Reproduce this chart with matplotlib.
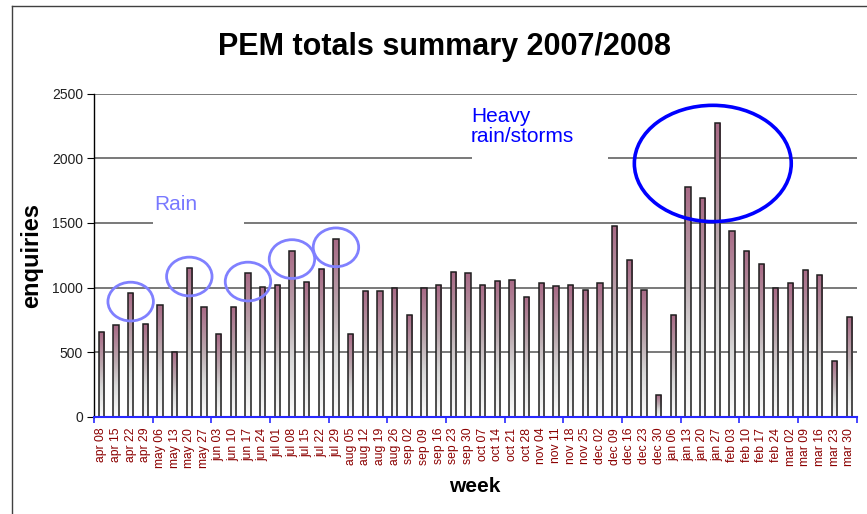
import numpy as np
import matplotlib
matplotlib.use('Agg')
import matplotlib.pyplot as plt
from matplotlib.patches import Ellipse, Rectangle
from matplotlib.colors import LinearSegmentedColormap
from matplotlib.lines import Line2D

plt.rcParams['font.family'] = ['Liberation Sans', 'DejaVu Sans']

# weekly PEM enquiries, apr 2007 - mar 2008
weeks = ['apr 08', 'apr 15', 'apr 22', 'apr 29', 'may 06', 'may 13', 'may 20', 'may 27',
         'jun 03', 'jun 10', 'jun 17', 'jun 24', 'jul 01', 'jul 08', 'jul 15', 'jul 22',
         'jul 29', 'aug 05', 'aug 12', 'aug 19', 'aug 26', 'sep 02', 'sep 09', 'sep 16',
         'sep 23', 'sep 30', 'oct 07', 'oct 14', 'oct 21', 'oct 28', 'nov 04', 'nov 11',
         'nov 18', 'nov 25', 'dec 02', 'dec 09', 'dec 16', 'dec 23', 'dec 30', 'jan 06',
         'jan 13', 'jan 20', 'jan 27', 'feb 03', 'feb 10', 'feb 17', 'feb 24', 'mar 02',
         'mar 09', 'mar 16', 'mar 23', 'mar 30']
enquiries = [653, 707, 956, 715, 863, 503, 1150, 847,
             637, 847, 1111, 1003, 1018, 1285, 1042, 1145,
             1376, 637, 972, 970, 997, 790, 997, 1016,
             1117, 1109, 1023, 1049, 1057, 930, 1031, 1010,
             1016, 977, 1031, 1474, 1215, 980, 165, 786,
             1775, 1689, 2275, 1440, 1285, 1184, 995, 1036,
             1137, 1098, 428, 772]

rain_weeks = ['apr 22', 'may 20', 'jun 17', 'jul 08', 'jul 29']
storm_week = 'jan 27'

W, H = 867, 514
fig = plt.figure(figsize=(W / 100, H / 100), dpi=100)
ax = fig.add_axes([94 / W, 1 - 416.7 / H, (856.5 - 94) / W, (416.7 - 93.7) / H])

x = np.arange(len(weeks))
bars = ax.bar(x, enquiries, width=0.36, facecolor='none', edgecolor='#1e1e1e',
              linewidth=1.1, zorder=4)

# gradient fill: white at the base, grey, then mauve/pink at the top
cmap = LinearSegmentedColormap.from_list(
    'pem', [(0, '#fbfbfb'), (0.35, '#d8d8d8'), (0.6, '#bcaab0'), (1.0, '#a86a86')])
grad = np.linspace(0, 1, 100).reshape(-1, 1)
for b in bars:
    x0, w, h = b.get_x(), b.get_width(), b.get_height()
    im = ax.imshow(grad, extent=[x0, x0 + w, 0, h], origin='lower', aspect='auto',
                   cmap=cmap, zorder=3, interpolation='bilinear')
    im.set_clip_path(b)

ax.set_xlim(-0.5, len(weeks) - 0.5)
ax.set_ylim(0, 2500)
ax.set_yticks(np.arange(0, 2501, 500))
ax.set_axisbelow(True)
ax.yaxis.grid(True, color='#6e6e6e', linewidth=1.3)

for s in ['top', 'right']:
    ax.spines[s].set_visible(False)
ax.spines['left'].set_color('black')
ax.spines['left'].set_linewidth(1.0)
ax.spines['bottom'].set_color('#2828ff')
ax.spines['bottom'].set_linewidth(1.5)
ax.spines['bottom'].set_zorder(5)

ax.set_xticks(x)
ax.set_xticklabels(weeks, rotation=90, color='#8b0000', fontsize=8.7)
ax.set_xticks(np.arange(-0.5, len(weeks), 4), minor=True)
ax.tick_params(axis='x', which='major', length=0, pad=8)
ax.tick_params(axis='x', which='minor', length=4, width=1.2, color='#2828ff')
ax.tick_params(axis='y', length=5, color='black', labelsize=10, labelcolor='#202020', pad=3)

# annotation boxes that blank out the gridlines
ax.add_patch(Rectangle((3.52, 1420), 6.2, 300, facecolor='white', edgecolor='none', zorder=1.5))
ax.text(3.6, 1597, 'Rain', color='#7878ff', fontsize=15, va='baseline', zorder=6)
ax.add_patch(Rectangle((25.27, 1900), 9.27, 480, facecolor='white', edgecolor='none', zorder=1.5))
ax.text(25.2, 2124, 'Heavy\nrain/storms', color='#0000ff', fontsize=15, va='baseline',
        linespacing=1.1, zorder=6)

for wk in rain_weeks:
    i = weeks.index(wk)
    ax.add_patch(Ellipse((i, enquiries[i] - 65), 3.1, 300, fill=False,
                         edgecolor='#8080ff', linewidth=2, zorder=6))
i = weeks.index(storm_week)
ax.add_patch(Ellipse((i - 0.3, 1960), 10.7, 900, fill=False,
                     edgecolor='#0000ff', linewidth=2.6, zorder=6))

# outer chart frame (cropped on the right and bottom)
fig.add_artist(Line2D([11.7 / W, 11.7 / W], [0, 1 - 6 / H], color='#404040', linewidth=1))
fig.add_artist(Line2D([11.7 / W, 1], [1 - 6 / H, 1 - 6 / H], color='#404040', linewidth=1))

fig.text(445 / W, 1 - 55 / H, 'PEM totals summary 2007/2008', ha='center', va='baseline',
         fontsize=22, fontweight='bold')
fig.text(32 / W, 1 - 255 / H, 'enquiries', rotation=90, ha='center', va='center',
         fontsize=17, fontweight='bold')
fig.text(474.7 / W, 1 - 486 / H, 'week', ha='center', va='center',
         fontsize=15, fontweight='bold')

fig.savefig('out.png', dpi=100)
